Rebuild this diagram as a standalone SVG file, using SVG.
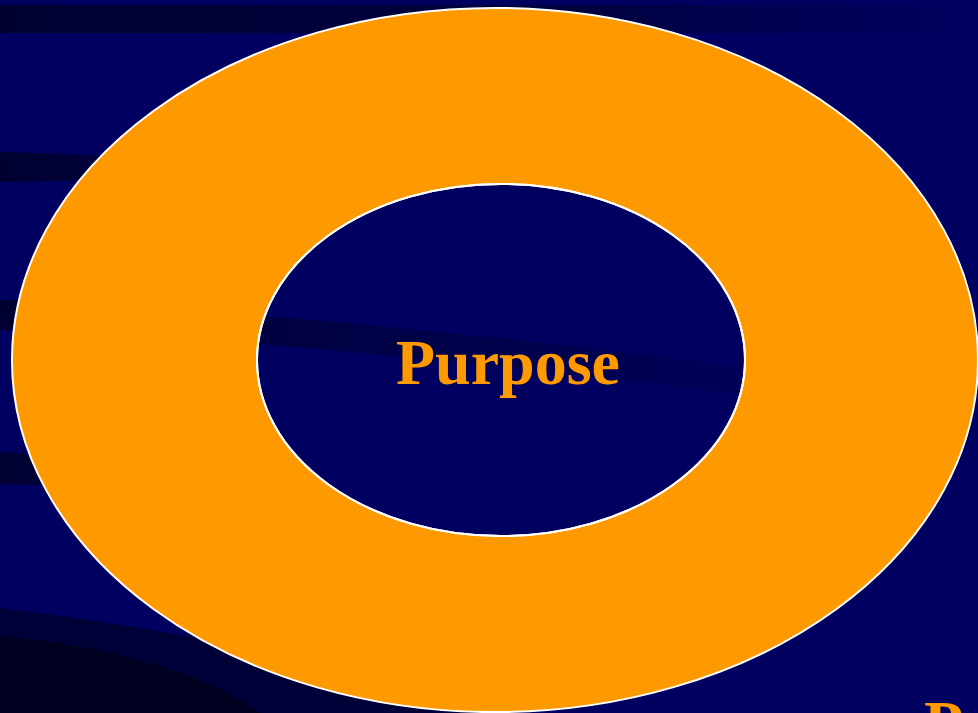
<svg xmlns="http://www.w3.org/2000/svg" width="978" height="713" viewBox="0 0 978 713">
<defs>
<style>
.ring{fill:#FF9900;stroke:#FFFFFF;stroke-width:2}
.hole{fill:none;stroke:#FFFFFF;stroke-width:2}
.lbl{font-family:"Liberation Serif","Times New Roman",serif;font-weight:bold;fill:#FF9900}
</style>
<linearGradient id="fadeR" x1="0" y1="0" x2="1" y2="0">
<stop offset="0" stop-color="#000030" stop-opacity="1"/>
<stop offset="0.6" stop-color="#000038" stop-opacity="0.8"/>
<stop offset="1" stop-color="#000040" stop-opacity="0"/>
</linearGradient>
<linearGradient id="fadeM" x1="0" y1="0" x2="1" y2="0">
<stop offset="0" stop-color="#000030" stop-opacity="1"/>
<stop offset="0.6" stop-color="#000040" stop-opacity="0.5"/>
<stop offset="1" stop-color="#000050" stop-opacity="0.1"/>
</linearGradient>
</defs>
<rect width="978" height="713" fill="#000060"/>
<g id="background-streaks">
<rect x="0" y="5" width="978" height="28" fill="url(#fadeR)"/>
<path d="M0,152 C100,154 200,160 320,170 L320,186 C200,180 100,180 0,182 Z" fill="url(#fadeR)"/>
<path d="M0,300 C200,308 500,330 978,400 L978,425 C500,360 200,335 0,330 Z" fill="url(#fadeM)"/>
<path d="M0,452 C60,455 100,462 160,470 L160,490 C100,486 60,486 0,484 Z" fill="url(#fadeR)"/>
<path d="M0,608 C150,625 350,665 520,713 L0,713 Z" fill="#000038"/>
<path d="M0,636 C100,645 200,670 260,713 L0,713 Z" fill="#000020"/>
</g>
<g id="outer-ring">
<path class="ring" fill-rule="evenodd" d="M12,360 A483,352 0 1,0 978,360 A483,352 0 1,0 12,360 Z M257,360 A244,176 0 1,1 745,360 A244,176 0 1,1 257,360 Z"/>
<ellipse class="hole" cx="501" cy="360" rx="244" ry="176"/>
</g>
<g id="purpose">
<text class="lbl" x="508" y="384" font-size="64" text-anchor="middle">Purpose</text>
</g>
<g id="corner-letter">
<text class="lbl" x="924" y="745" font-size="64">P</text>
</g>
</svg>
